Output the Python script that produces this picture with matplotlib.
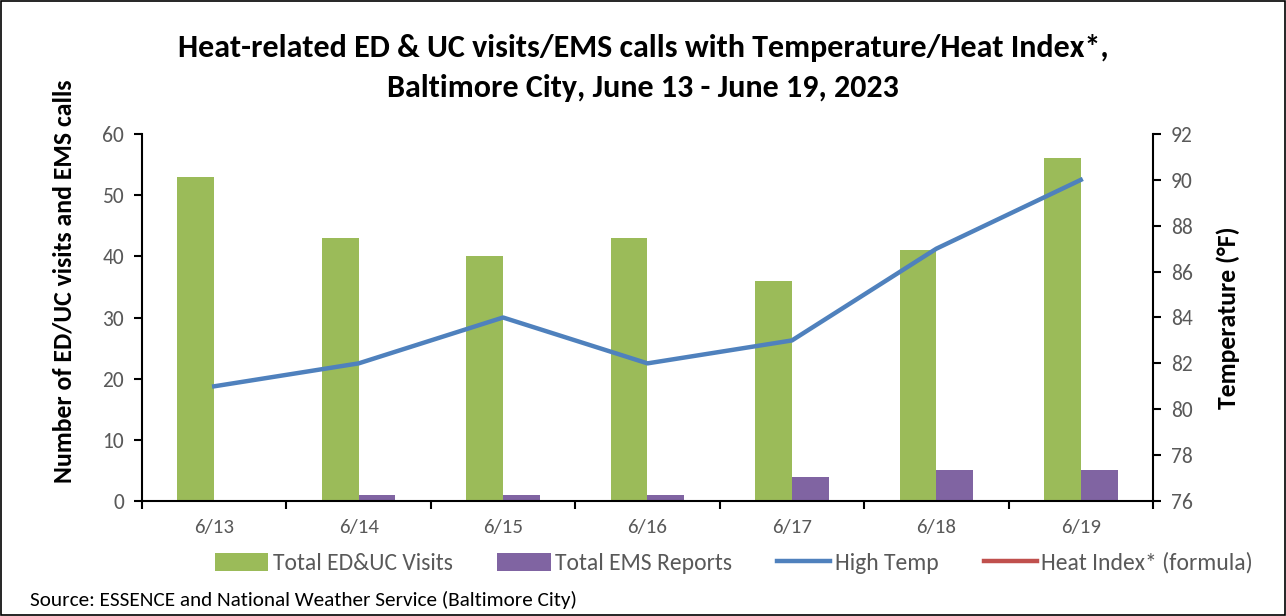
import numpy as np
import matplotlib.pyplot as plt
from matplotlib.patches import Rectangle

plt.rcParams['font.family'] = ['Carlito', 'Lato', 'DejaVu Sans']

dates = ['6/13', '6/14', '6/15', '6/16', '6/17', '6/18', '6/19']
ed_uc_visits = [53, 43, 40, 43, 36, 41, 56]
ems_reports = [0, 1, 1, 1, 4, 5, 5]
high_temp = [81, 82, 84, 82, 83, 87, 90]
heat_index = []  # no values shown

green = '#9BBB59'
purple = '#8064A2'
blue = '#4F81BD'
red = '#C0504D'
gray = '#595959'

fig = plt.figure(figsize=(12.86, 6.16), dpi=100)
ax = fig.add_axes([142/1286, 1 - 501/616, 1011/1286, 367/616])

x = np.arange(len(dates))
w = 0.255
ax.bar(x - w/2, ed_uc_visits, width=w, color=green, label='Total ED&UC Visits')
ax.bar(x + w/2, ems_reports, width=w, color=purple, label='Total EMS Reports')

ax.set_xlim(-0.5, len(dates) - 0.5)
ax.set_ylim(0, 60)
ax.set_yticks(range(0, 61, 10))
ax.set_xticks(x)
ax.set_xticklabels(dates)
ax.set_xticks(np.arange(-0.5, len(dates)), minor=True)
ax.tick_params(axis='x', which='major', length=0, pad=13, labelsize=15, labelcolor=gray)
ax.tick_params(axis='x', which='minor', length=6, width=1.5, direction='out')
ax.tick_params(axis='y', length=6, width=1.5, labelsize=15.5, labelcolor=gray, pad=7)
for s in ['top', 'right']:
    ax.spines[s].set_visible(False)
for s in ['left', 'bottom']:
    ax.spines[s].set_linewidth(1.5)
ax.set_ylabel('Number of ED/UC visits and EMS calls', fontsize=18.5, fontweight='bold')
ax.yaxis.set_label_coords(-0.066, 0.6)

ax2 = ax.twinx()
ax2.plot(x, high_temp, color=blue, lw=3.2, label='High Temp')
ax2.plot(heat_index, heat_index, color=red, lw=3.2, label='Heat Index* (formula)')
ax2.set_ylim(76, 92)
ax2.set_yticks(range(76, 93, 2))
ax2.tick_params(axis='y', length=6, width=1.5, labelsize=15.5, labelcolor=gray, pad=7)
for s in ['top', 'left', 'bottom']:
    ax2.spines[s].set_visible(False)
ax2.spines['right'].set_linewidth(1.5)
ax2.set_ylabel('Temperature (°F)', fontsize=18.5, fontweight='bold')
ax2.yaxis.set_label_coords(1.063, 0.5)

fig.text(0.5, 1 - 48/616, 'Heat-related ED & UC visits/EMS calls with Temperature/Heat Index*,',
         ha='center', va='center', fontsize=23, fontweight='bold')
fig.text(0.5, 1 - 88/616, 'Baltimore City, June 13 - June 19, 2023',
         ha='center', va='center', fontsize=23, fontweight='bold')

h1, l1 = ax.get_legend_handles_labels()
h2, l2 = ax2.get_legend_handles_labels()
fig.legend(h1 + h2, l1 + l2, loc='center', bbox_to_anchor=(734/1286, 1 - 563/616), ncol=4,
           frameon=False, fontsize=17, labelcolor=gray, handlelength=2.25, handleheight=0.8,
           columnspacing=1.9, handletextpad=0.2, borderpad=0)

fig.text(30/1286, 1 - 600/616, 'Source: ESSENCE and National Weather Service (Baltimore City)',
         ha='left', va='center', fontsize=15.3)

fig.patches.append(Rectangle((0.001, 0.001), 0.998, 0.998, transform=fig.transFigure,
                             fill=False, edgecolor='black', lw=1.2))

fig.savefig('out.png', dpi=100)
